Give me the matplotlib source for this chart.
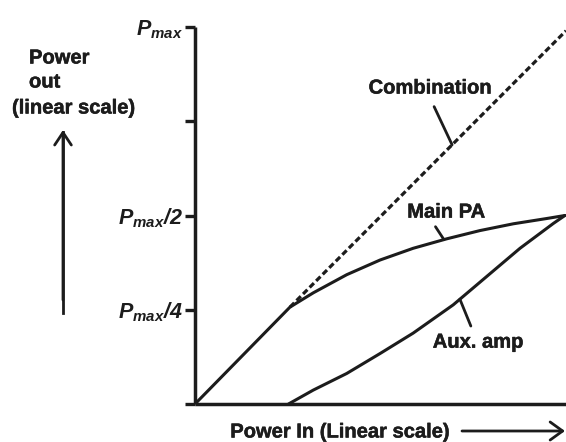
import numpy as np
import matplotlib.pyplot as plt
import matplotlib.patheffects as pe

plt.rcParams['font.family'] = 'Liberation Sans'
plt.rcParams['font.weight'] = 'bold'
plt.rcParams['mathtext.fontset'] = 'custom'
plt.rcParams['mathtext.it'] = 'Liberation Sans:italic:bold'
plt.rcParams['mathtext.rm'] = 'Liberation Sans:italic:bold'
plt.rcParams['mathtext.sf'] = 'Liberation Sans:italic'

ink = '#1c1c1c'
heavy = [pe.withStroke(linewidth=0.35, foreground=ink)]

# power in (linear, 0..1) -> power out (fraction of Pmax)
main_x = [0.0, 0.256, 0.319, 0.409, 0.499, 0.588, 0.678, 0.768, 0.858, 0.948, 0.997]
main_y = [0.0, 0.257, 0.295, 0.343, 0.382, 0.413, 0.438, 0.460, 0.478, 0.492, 0.500]
aux_x = [0.252, 0.319, 0.409, 0.499, 0.588, 0.696, 0.786, 0.876, 0.966, 0.997]
aux_y = [0.0, 0.037, 0.081, 0.134, 0.188, 0.263, 0.338, 0.413, 0.479, 0.500]
comb_x = [0.256, 1.0]
comb_y = [0.257, 0.99]

yticks = [0.0, 0.25, 0.5, 0.75, 1.0]
ylabels = ['', r'$P_{\mathsf{max}}/4$', r'$P_{\mathsf{max}}/2$', '', r'$P_{\mathsf{max}}\ \ \ \ $']

fig = plt.figure(figsize=(5.66, 4.42), dpi=100)
ax = fig.add_axes([195/566, 38/442, 371/566, 377/442])

ax.plot(main_x, main_y, color=ink, lw=2.2, solid_joinstyle='round', solid_capstyle='round')
ax.plot(aux_x, aux_y, color=ink, lw=2.2, solid_joinstyle='round', solid_capstyle='round')
ax.plot(comb_x, comb_y, color=ink, lw=2.3, ls=(0, (1.9, 1.0)))

ax.set_xlim(0, 1)
ax.set_ylim(0, 1)
ax.set_xticks([])
ax.set_yticks(yticks)
ax.set_yticklabels(ylabels, fontsize=15.5)
ax.tick_params(axis='y', direction='out', length=7.5, width=2.4, color=ink, pad=1.5, labelcolor=ink)
for s in ['top', 'right']:
    ax.spines[s].set_visible(False)
for s in ['left', 'bottom']:
    ax.spines[s].set_linewidth(2.5)
    ax.spines[s].set_color(ink)
    ax.spines[s].set_capstyle('butt')

# curve labels with leader lines
lead = dict(arrowstyle='-', lw=2.0, color=ink, shrinkB=0)
ax.annotate('Combination', xy=(0.693, np.interp(0.693, comb_x, comb_y)), xytext=(0.633, 0.838),
            ha='center', va='center', fontsize=14.5, color=ink, path_effects=heavy,
            arrowprops=dict(lead, relpos=(0.5, 0.0), shrinkA=5))
ax.annotate('Main PA', xy=(0.671, np.interp(0.671, main_x, main_y)), xytext=(0.677, 0.509),
            ha='center', va='center', fontsize=14.5, color=ink, path_effects=heavy,
            arrowprops=dict(lead, relpos=(0.32, 0.0), shrinkA=2))
ax.annotate('Aux. amp', xy=(0.714, np.interp(0.714, aux_x, aux_y)), xytext=(0.763, 0.164),
            ha='center', va='center', fontsize=14.5, color=ink, path_effects=heavy,
            arrowprops=dict(lead, relpos=(0.45, 1.0), shrinkA=3))

# y axis title and arrow
for txt, x, y in [('Power', 29, 58), ('out', 29, 82), ('(linear scale)', 12, 108)]:
    fig.text(x/566, 1 - y/442, txt, fontsize=14.5, color=ink, va='center', ha='left',
             path_effects=heavy)
fig.add_artist(plt.Line2D([63/566, 63/566], [1 - 313/442, 1 - 132/442], color=ink, lw=2.0))
ax.annotate('', xy=(63, 442 - 130), xytext=(63, 442 - 300), xycoords='figure pixels',
            textcoords='figure pixels',
            arrowprops=dict(arrowstyle='->,head_length=0.9,head_width=0.6', lw=2.0, color=ink,
                            shrinkA=0, shrinkB=0), annotation_clip=False)

# x axis title and arrow
fig.text(340/566, 1 - 432/442, 'Power In (Linear scale)', fontsize=14.5, color=ink,
         va='center', ha='center', path_effects=heavy)
ax.annotate('', xy=(565, 442 - 431), xytext=(462, 442 - 431), xycoords='figure pixels',
            textcoords='figure pixels',
            arrowprops=dict(arrowstyle='->,head_length=0.9,head_width=0.65', lw=2.0, color=ink,
                            shrinkA=0, shrinkB=0), annotation_clip=False)

fig.savefig('out.png', dpi=100)
